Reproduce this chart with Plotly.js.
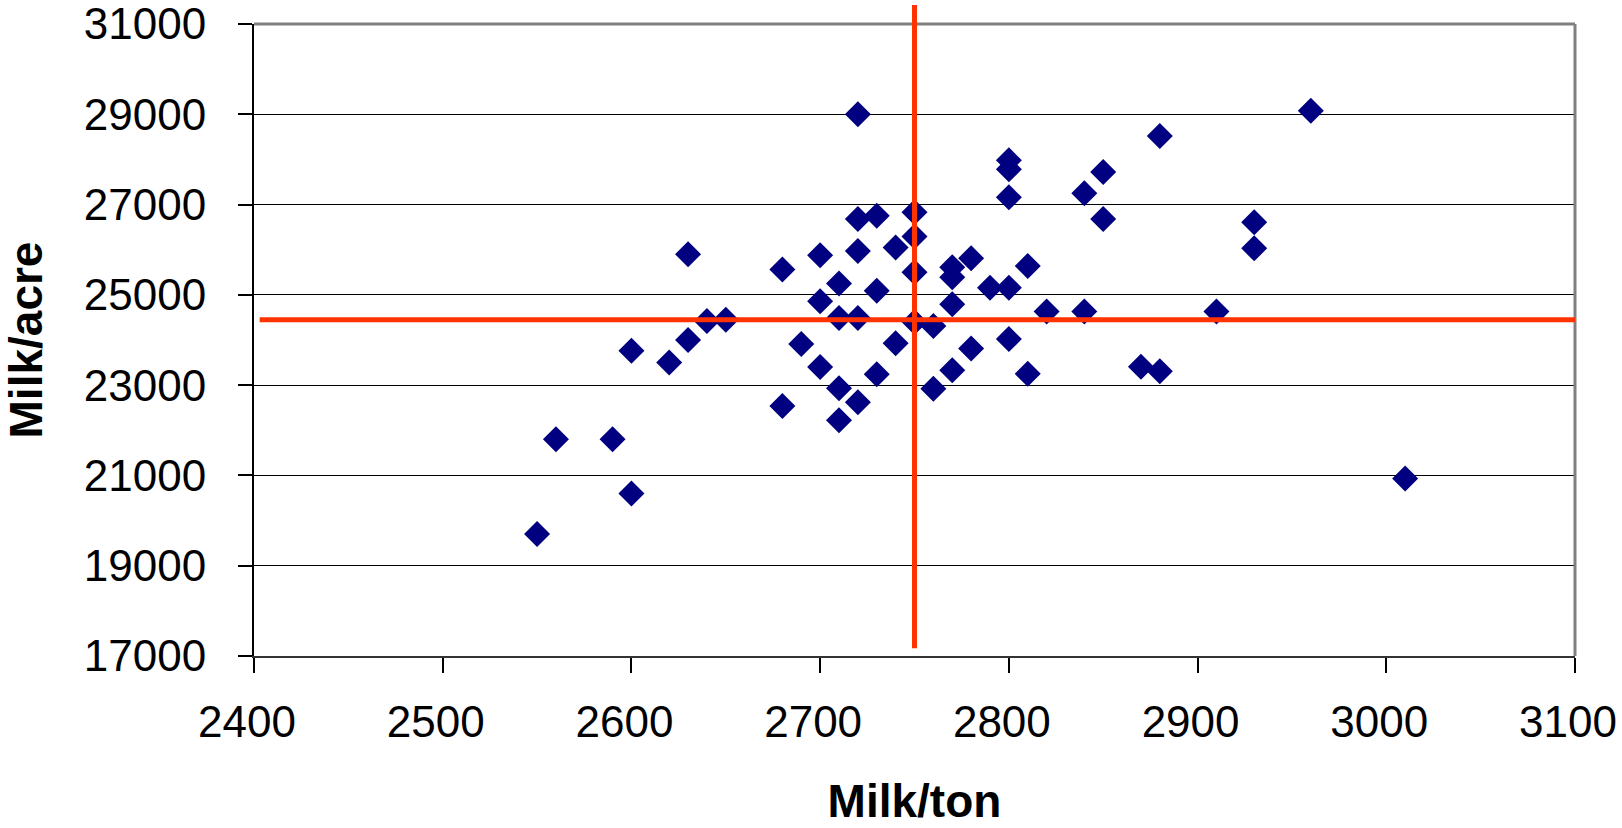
<!DOCTYPE html>
<html>
<head>
<meta charset="utf-8">
<script src="https://cdn.plot.ly/plotly-3.0.1.min.js"></script>
<style>html,body{margin:0;padding:0;background:#fff;}#chart{width:1622px;height:828px;}</style>
</head>
<body>
<div id="chart"></div>
<script>
// Milk/ton (x) and Milk/acre (y) for each hybrid
const milkPerTon = [2550, 2560, 2590, 2600, 2600, 2620, 2630, 2630, 2640, 2650,
  2680, 2680, 2690, 2700, 2700, 2700, 2710, 2710, 2710, 2710,
  2720, 2720, 2720, 2720, 2720, 2730, 2730, 2730, 2740, 2740,
  2750, 2750, 2750, 2750, 2760, 2760, 2770, 2770, 2770, 2770,
  2780, 2780, 2790, 2800, 2800, 2800, 2800, 2800, 2810, 2810,
  2820, 2840, 2840, 2850, 2850, 2870, 2880, 2880, 2910, 2930,
  2930, 2960, 3010];
const milkPerAcre = [19700, 21800, 21800, 20600, 23760, 23500, 24000, 25900, 24420, 24450,
  25560, 22540, 23910, 25880, 24860, 23400, 25250, 24490, 22930, 22220,
  29000, 26680, 25970, 24490, 22620, 26750, 25090, 23240, 26050, 23930,
  26830, 26290, 25500, 24400, 24310, 22920, 25610, 25390, 24790, 23330,
  25810, 23810, 25160, 27980, 27780, 27160, 25160, 24020, 25640, 23250,
  24630, 27250, 24630, 27720, 26680, 23410, 28520, 23310, 24630, 26610,
  26030, 29080, 20930];

// average reference lines
const avgMilkPerTon = 2750;
const avgMilkPerAcre = 24450;
const vLineY = [17170, 31420];
const hLineX = [2403, 3100];

const xTicks = [2400, 2500, 2600, 2700, 2800, 2900, 3000, 3100];
const yTicks = [17000, 19000, 21000, 23000, 25000, 27000, 29000, 31000];

const yRange = [yTicks[0], yTicks[yTicks.length - 1]];
const xRange = [xTicks[0], xTicks[xTicks.length - 1]];
// the vertical average line runs past the top of the plot, so its ends are
// given as fractions of the y axis (clipped horizontally only)
const yFrac = v => (v - yRange[0]) / (yRange[1] - yRange[0]);

const red = '#FF3300';
const font = 'Liberation Sans, Arial, sans-serif';

const traces = [{
  type: 'scatter', mode: 'markers',
  x: milkPerTon, y: milkPerAcre,
  marker: {symbol: 'diamond', size: 20, color: '#000080', line: {width: 0}},
  cliponaxis: false, hoverinfo: 'x+y'
}];

const layout = {
  width: 1622, height: 828,
  margin: {l: 254, r: 47, t: 24, b: 172},
  paper_bgcolor: '#ffffff', plot_bgcolor: '#ffffff',
  showlegend: false,
  font: {family: font, color: '#000'},
  xaxis: {
    range: xRange,
    tickvals: xTicks, ticktext: xTicks.map(String),
    showgrid: false, zeroline: false,
    showline: true, linecolor: '#333', linewidth: 2,
    ticks: 'outside', ticklen: 15, tickwidth: 2, tickcolor: '#000',
    tickfont: {size: 44, family: font, color: '#000'},
    ticklabelstandoff: 11, ticklabelshift: -7, ticklabeloverflow: 'allow',
    title: {text: 'Milk/ton', font: {size: 46, family: font, color: '#000', weight: 'bold'}, standoff: 40}
  },
  yaxis: {
    range: yRange,
    tickvals: yTicks, ticktext: yTicks.map(String),
    showgrid: true, gridcolor: '#000', gridwidth: 1,
    zeroline: false,
    showline: true, linecolor: '#000', linewidth: 2,
    ticks: 'outside', ticklen: 14, tickwidth: 2, tickcolor: '#000',
    tickfont: {size: 44, family: font, color: '#000'},
    ticklabelstandoff: 23, ticklabeloverflow: 'allow',
    title: {text: 'Milk/acre', font: {size: 46, family: font, color: '#000', weight: 'bold'}, standoff: 33}
  },
  shapes: [
    {type: 'line', xref: 'paper', yref: 'paper', x0: 0, x1: 1, y0: 1, y1: 1, line: {color: '#808080', width: 3}},
    {type: 'line', xref: 'paper', yref: 'paper', x0: 1, x1: 1, y0: 0, y1: 1, line: {color: '#808080', width: 3}},
    {type: 'line', xref: 'x', yref: 'y', x0: hLineX[0], x1: hLineX[1], y0: avgMilkPerAcre, y1: avgMilkPerAcre, line: {color: red, width: 5}},
    {type: 'line', xref: 'x', yref: 'paper', x0: avgMilkPerTon, x1: avgMilkPerTon, y0: yFrac(vLineY[0]), y1: yFrac(vLineY[1]), line: {color: red, width: 5}}
  ]
};

Plotly.newPlot('chart', traces, layout, {displayModeBar: false, staticPlot: true});
</script>
</body>
</html>
